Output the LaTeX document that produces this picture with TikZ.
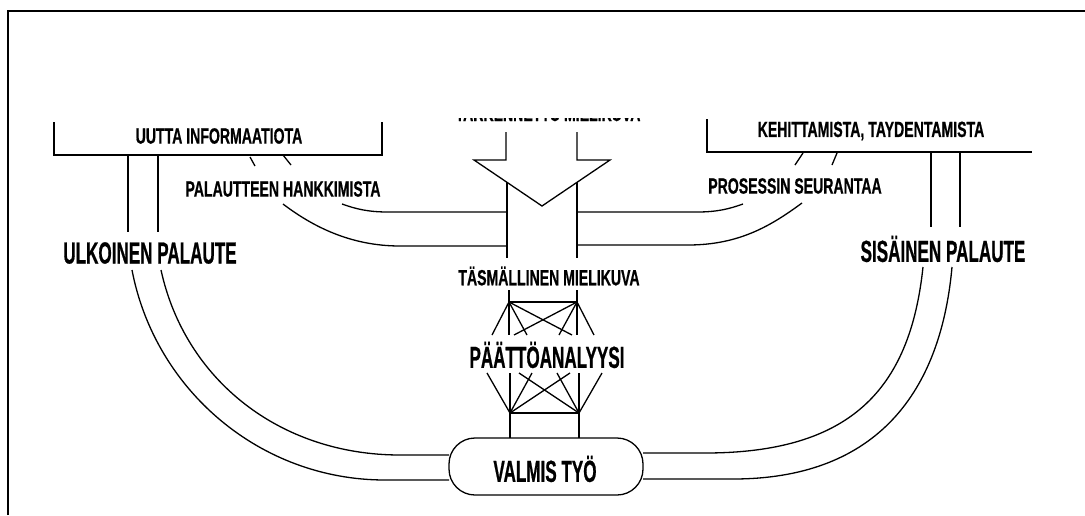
\documentclass[tikz,border=0pt]{standalone}
\usepackage{fontspec}
\newfontfamily\smallfnt{Liberation Sans Bold}[FakeStretch=0.64, FakeBold=0.6]
\newfontfamily\bigfnt{Liberation Sans Bold}[FakeStretch=0.56, FakeBold=0.6]
\tikzset{
  ln/.style={line width=1.3pt, line join=miter},
  frame/.style={line width=2.7pt},
  smalllab/.style={inner sep=0pt, font=\smallfnt\fontsize{22}{24}\selectfont},
  biglab/.style={inner sep=0pt, font=\bigfnt\fontsize{30.5}{32}\selectfont},
}
\begin{document}
\begin{tikzpicture}[x=1pt,y=-1pt]
\useasboundingbox (0,0) rectangle (1085,515);
\fill[white] (0,0) rectangle (1085,515);
% frame
\draw[frame] (8,515) -- (8,11) -- (1085,11);

% clipped top label (only its lower edge shows)
\begin{scope}
\clip (430,118.3) rectangle (670,126);
\node[smalllab, anchor=base] (toplab) at (548,121) {TARKENNETTU MIELIKUVA};
\end{scope}

% left box
\draw[ln] (54,122) -- (54,155) -- (382,155) -- (382,122);
\node[smalllab] (uutta) at (219,136) {UUTTA INFORMAATIOTA};
% right box
\draw[ln] (707,119) -- (707,152) -- (1032,152);
\node[smalllab] (kehit) at (871,131) {KEHITTAMISTA, TAYDENTAMISTA};

% ticks
\draw[ln] (250,157) -- (255,166);
\draw[ln] (283,155) -- (291,165);
\draw[ln] (803,153) -- (795,165);
\draw[ln] (837,153) -- (832,165);

\node[smalllab] (palh) at (283,189) {PALAUTTEEN HANKKIMISTA};
\node[smalllab] (pros) at (795,186) {PROSESSIN SEURANTAA};

% vertical feedback stems
\draw[ln] (128,155) -- (128,232);
\draw[ln] (158,155) -- (158,232);
\draw[ln] (931,152) -- (931,227);
\draw[ln] (960,152) -- (960,227);

\node[biglab] (ulk) at (150,253) {ULKOINEN PALAUTE};
\node[biglab] (sis) at (943,249) {SIS\"AINEN PALAUTE};

% central arrow
\coordinate (apex) at (542,206);
\draw[ln] (506,132) -- (506,160) -- (474,160) -- (apex) -- (610,160) -- (577,160) -- (577,132);
\draw[ln] (507,182) -- (507,258);
\draw[ln] (577,182) -- (577,258);

% side curves
\draw[ln] (342,204) .. controls (356,209) and (368,212) .. (388,212) -- (507,212);
\draw[ln] (283,204) .. controls (312,226) and (350,246) .. (400,246) -- (507,246);
\draw[ln] (743,204) .. controls (729,209) and (717,212) .. (697,212) -- (577,212);
\draw[ln] (802,203) .. controls (772,225) and (740,245) .. (688,245) -- (577,245);

\node[smalllab] (tasm) at (549,276) {T\"ASM\"ALLINEN MIELIKUVA};

% upper lattice
\coordinate (A) at (509,302);
\coordinate (B) at (577,302);
\draw[ln] (509,290) -- (A) -- (B) -- (577,290);
\draw[ln] (A) -- (492,335);
\draw[ln] (A) -- (509,335);
\draw[ln] (A) -- (527,335);
\draw[ln] (A) -- (572,335);
\draw[ln] (B) -- (594,335);
\draw[ln] (B) -- (577,335);
\draw[ln] (B) -- (559,335);
\draw[ln] (B) -- (514,335);

\node[biglab] (paat) at (547,355) {P\"A\"ATT\"OANALYYSI};

% lower lattice
\coordinate (C) at (510,413);
\coordinate (D) at (579,413);
\draw[ln] (510,438) -- (C) -- (D) -- (579,438);
\draw[ln] (C) -- (487,373);
\draw[ln] (C) -- (510,373);
\draw[ln] (C) -- (532,373);
\draw[ln] (C) -- (570,373);
\draw[ln] (D) -- (602,373);
\draw[ln] (D) -- (579,373);
\draw[ln] (D) -- (557,373);
\draw[ln] (D) -- (519,373);

% finished work
\draw[ln, rounded corners=26pt] (449,438) rectangle (643,495);
\node[biglab] (valmis) at (545,469) {VALMIS TY\"O};

% big feedback arcs
\draw[ln] (132,270) .. controls (155,390) and (260,480) .. (385,480) -- (449,480);
\draw[ln] (161,270) .. controls (185,380) and (280,455) .. (400,455) -- (449,455);
\draw[ln] (923,267) .. controls (910,390) and (850,453) .. (705,453) -- (643,453);
\draw[ln] (952,267) .. controls (940,400) and (870,479) .. (733,479) -- (643,479);
\end{tikzpicture}
\end{document}
